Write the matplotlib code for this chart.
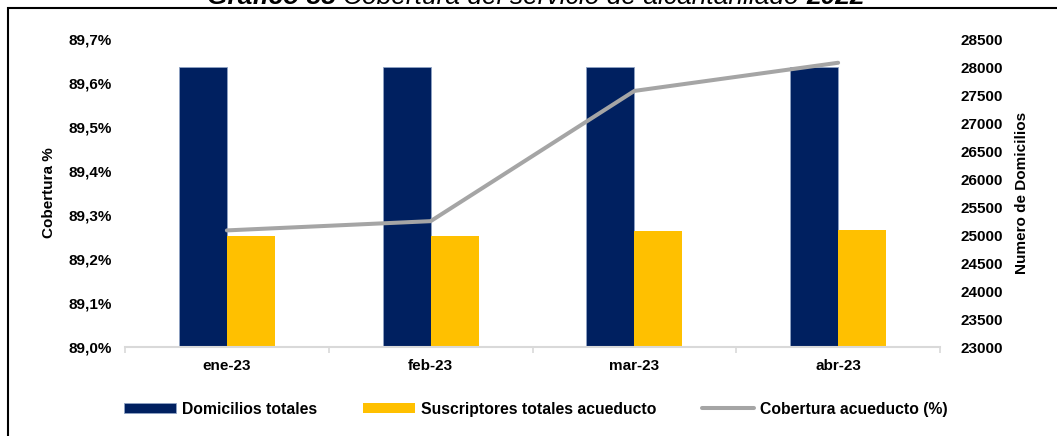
import matplotlib
matplotlib.use("Agg")
import matplotlib.pyplot as plt
from matplotlib.patches import Rectangle
from matplotlib.transforms import IdentityTransform
from matplotlib.ticker import FuncFormatter, FixedLocator

# data
meses = ["ene-23", "feb-23", "mar-23", "abr-23"]
domicilios = [28000, 28000, 28000, 28000]
suscriptores = [24975, 24980, 25065, 25090]
cobertura = [89.265, 89.286, 89.582, 89.646]

NAVY = "#002060"
YELLOW = "#FFC000"
GREY = "#A5A5A5"
AXGREY = "#D9D9D9"

plt.rcParams["font.family"] = ["Liberation Sans", "DejaVu Sans"]
plt.rcParams["font.weight"] = "bold"
plt.rcParams["font.size"] = 11

W, H = 1057, 436
fig = plt.figure(figsize=(W / 100, H / 100), dpi=100)

# axes placed to the reference pixel box
ax = fig.add_axes([125 / W, 1 - 347 / H, (940 - 125) / W, (347 - 39) / H])
ax2 = ax.twinx()

x = list(range(len(meses)))
bw = 0.236
ax2.bar([i - bw / 2 for i in x], domicilios, bw, color=NAVY,
        edgecolor="#8FA3C4", linewidth=0.6, label="Domicilios totales")
ax2.bar([i + bw / 2 for i in x], suscriptores, bw, color=YELLOW,
        linewidth=0, label="Suscriptores totales acueducto")
ax2.set_ylim(23000, 28500)
ax2.set_yticks(range(23000, 28501, 500))

line, = ax.plot(x, cobertura, color=GREY, lw=2.9, solid_capstyle="round",
                label="Cobertura acueducto (%)")
ax.set_ylim(89.0, 89.7)
ax.set_yticks([89.0 + 0.1 * k for k in range(8)])
ax.yaxis.set_major_formatter(FuncFormatter(lambda v, p: f"{v:.1f}%".replace(".", ",")))

# line above the bars
ax.set_zorder(ax2.get_zorder() + 1)
ax.patch.set_visible(False)

ax.set_xlim(-0.5, len(meses) - 0.5)
ax.set_xticks(x)
ax.set_xticklabels(meses)
ax.xaxis.set_minor_locator(FixedLocator([i - 0.5 for i in range(len(meses) + 1)]))
ax.tick_params(axis="x", which="major", length=0, pad=9)
ax.tick_params(axis="x", which="minor", length=4, width=1.2, color=AXGREY, direction="out")
ax.tick_params(axis="y", length=0, pad=9.5)
ax2.tick_params(axis="y", length=0, pad=14.5)

for a in (ax, ax2):
    for s in ("top", "left", "right"):
        a.spines[s].set_visible(False)
    a.spines["bottom"].set_color(AXGREY)
    a.spines["bottom"].set_linewidth(1.5)
ax2.spines["bottom"].set_visible(False)

ax.set_ylabel("Cobertura %", fontweight="bold", va="center")
ax.yaxis.set_label_coords((49 - 125) / 815, 0.5)
ax2.set_ylabel("Numero de Domicilios", fontweight="bold", va="center", rotation=90)
ax2.yaxis.set_label_coords((1022 - 125) / 815, 0.5)

handles = ax2.get_legend_handles_labels()[0] + [line]
labels = [h.get_label() for h in handles]
fig.legend(handles, labels, loc="center", ncol=3, frameon=False, fontsize=11.3,
           bbox_to_anchor=(536 / W, 1 - 409 / H), handlelength=3.3,
           handleheight=0.55, handletextpad=0.4, columnspacing=2.9)

# caption at the very top, cut off by the image edge as in the reference
t1 = fig.text(207 / W, 1 - 4 / H, "Gráfico 38 ", fontsize=19, style="italic",
              fontweight="bold", va="baseline", ha="left")
fig.canvas.draw()
bb = t1.get_window_extent()
t2 = fig.text(bb.x1, bb.y0, "Cobertura del servicio de alcantarillado ", fontsize=19,
              style="italic", fontweight="normal", va="bottom", ha="left",
              transform=IdentityTransform())
fig.canvas.draw()
bb2 = t2.get_window_extent()
fig.text(bb2.x1, bb2.y0, "2022", fontsize=19, style="italic", fontweight="bold",
         va="bottom", ha="left", transform=IdentityTransform())

# outer frame, cut by the right and bottom edges
fig.add_artist(Rectangle((8 / W, -0.1), 1.2, 1.1 - 8.5 / H, transform=fig.transFigure,
                         fill=False, edgecolor="black", linewidth=1.5))

fig.savefig("out.png", dpi=100)
